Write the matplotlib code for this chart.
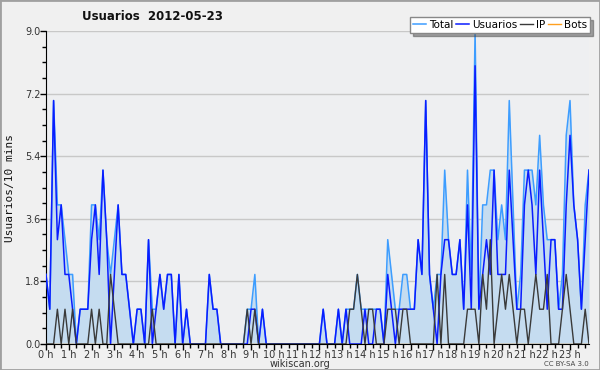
import matplotlib.pyplot as plt
from matplotlib.ticker import MultipleLocator, FixedLocator
from matplotlib.patches import Rectangle

plt.rcParams['font.family'] = ['Liberation Sans Narrow', 'DejaVu Sans']

# Datos: una muestra cada 10 minutos (144 por dia)
usuarios = [2, 1, 7, 3, 4, 2, 2, 1, 0, 1, 1, 1,
            3, 4, 2, 5, 3, 0, 2, 4, 2, 2, 1, 0,
            1, 1, 0, 3, 0, 1, 2, 1, 2, 2, 0, 2,
            0, 1, 0, 0, 0, 0, 0, 2, 1, 1, 0, 0,
            0, 0, 0, 0, 0, 0, 1, 1, 0, 1, 0, 0,
            0, 0, 0, 0, 0, 0, 0, 0, 0, 0, 0, 0,
            0, 1, 0, 0, 0, 1, 0, 1, 0, 0, 0, 0,
            1, 0, 0, 1, 1, 0, 2, 1, 0, 1, 1, 1,
            1, 1, 3, 2, 7, 2, 1, 0, 2, 3, 3, 2,
            2, 3, 1, 4, 1, 8, 1, 2, 3, 2, 5, 2,
            2, 2, 5, 3, 1, 1, 4, 5, 4, 2, 5, 3,
            1, 3, 3, 1, 1, 4, 6, 4, 3, 1, 3, 5]

ip = [0, 0, 0, 1, 0, 1, 0, 1, 0, 0, 0, 0,
      1, 0, 1, 0, 0, 2, 1, 0, 0, 0, 0, 0,
      0, 0, 0, 0, 1, 0, 0, 0, 0, 0, 0, 0,
      0, 0, 0, 0, 0, 0, 0, 0, 0, 0, 0, 0,
      0, 0, 0, 0, 0, 1, 0, 1, 0, 0, 0, 0,
      0, 0, 0, 0, 0, 0, 0, 0, 0, 0, 0, 0,
      0, 0, 0, 0, 0, 0, 0, 0, 1, 1, 2, 1,
      0, 1, 1, 0, 0, 0, 1, 1, 1, 0, 1, 1,
      0, 0, 0, 0, 0, 0, 0, 2, 0, 2, 0, 0,
      0, 0, 0, 1, 1, 1, 0, 2, 1, 3, 0, 1,
      2, 1, 2, 1, 0, 1, 1, 0, 1, 2, 1, 1,
      2, 0, 0, 0, 1, 2, 1, 0, 0, 0, 1, 0]

total = [2, 1, 7, 4, 4, 3, 2, 2, 0, 1, 1, 1,
         4, 4, 3, 5, 3, 2, 3, 4, 2, 2, 1, 0,
         1, 1, 0, 3, 1, 1, 2, 1, 2, 2, 0, 2,
         0, 1, 0, 0, 0, 0, 0, 2, 1, 1, 0, 0,
         0, 0, 0, 0, 0, 1, 1, 2, 0, 1, 0, 0,
         0, 0, 0, 0, 0, 0, 0, 0, 0, 0, 0, 0,
         0, 1, 0, 0, 0, 1, 0, 1, 1, 1, 2, 1,
         1, 1, 1, 1, 1, 0, 3, 2, 1, 1, 2, 2,
         1, 1, 3, 2, 7, 2, 1, 2, 2, 5, 3, 2,
         2, 3, 1, 5, 2, 9, 1, 4, 4, 5, 5, 3,
         4, 3, 7, 4, 1, 2, 5, 5, 5, 4, 6, 4,
         3, 3, 3, 1, 2, 6, 7, 4, 3, 1, 4, 5]

bots = [0] * 144

hour_labels = [f"{h} h" for h in range(24)]
y_ticks = [0.0, 1.8, 3.6, 5.4, 7.2, 9.0]

x = list(range(len(total)))

fig = plt.figure(figsize=(6, 3.7), dpi=100, facecolor='#f0f0f0')
ax = fig.add_axes([46 / 600, 26 / 370, 543 / 600, 313 / 370])
ax.set_facecolor('#eeeff1')

# Area y lineas
ax.fill_between(x, total, 0, color='#c5dcf0', lw=0, zorder=1)
ax.plot(x, total, color='#3d9dff', lw=1.1, label='Total', zorder=3)
ax.plot(x, usuarios, color='#0a1cff', lw=1.1, label='Usuarios', zorder=4)
ax.plot(x, ip, color='#3a3a3a', lw=1.0, label='IP', zorder=5)
ax.plot(x, bots, color='#ffa020', lw=1.0, label='Bots', zorder=2)

ax.set_xlim(0, 143)
ax.set_ylim(0, 9.0)

# Ejes
for s in ['top', 'right']:
    ax.spines[s].set_visible(False)
ax.spines['left'].set_color('black')
ax.spines['bottom'].set_color('black')
ax.spines['bottom'].set_zorder(6)

ax.set_yticks(y_ticks)
ax.set_yticklabels([f"{v:.1f}" for v in y_ticks])
ax.yaxis.set_minor_locator(MultipleLocator(0.45))
ax.xaxis.set_major_locator(FixedLocator([6 * h for h in range(24)]))
ax.set_xticklabels(hour_labels)
ax.xaxis.set_minor_locator(MultipleLocator(2))
ax.tick_params(axis='both', which='major', length=4, width=1, labelsize=7,
               labelcolor='#333333', pad=0)
ax.tick_params(axis='both', which='minor', length=3, width=1)
ax.grid(axis='y', color='#c8c8c8', lw=1)
ax.set_axisbelow(True)

# Textos
fig.text(152 / 600, 1 - 17 / 370, 'Usuarios  2012-05-23', ha='center',
         va='center', fontsize=8.5, fontweight='bold', color='#111111')
fig.text(10 / 600, 1 - 188 / 370, 'Usuarios/10 mins', rotation=90,
         ha='center', va='center', fontsize=8, family='DejaVu Sans Mono',
         color='#111111')
fig.text(300 / 600, 1 - 364 / 370, 'wikiscan.org', ha='center', va='center',
         fontsize=7, color='#333333')
fig.text(589 / 600, 1 - 364 / 370, 'CC BY-SA 3.0', ha='right', va='center',
         fontsize=5, color='#444444')

fig.legend(loc='upper right', bbox_to_anchor=(590 / 600, 1 - 17 / 370),
           ncol=4, fontsize=7.5, frameon=True, fancybox=False, shadow=True,
           edgecolor='#888888', facecolor='white', handlelength=1.2,
           handletextpad=0.3, columnspacing=0.3, borderpad=0.3,
           borderaxespad=0)

fig.patches.append(Rectangle((0, 0), 1, 1, transform=fig.transFigure,
                             fill=False, edgecolor='#a0a0a0', lw=2))

plt.savefig('out.png', dpi=100, facecolor=fig.get_facecolor())
